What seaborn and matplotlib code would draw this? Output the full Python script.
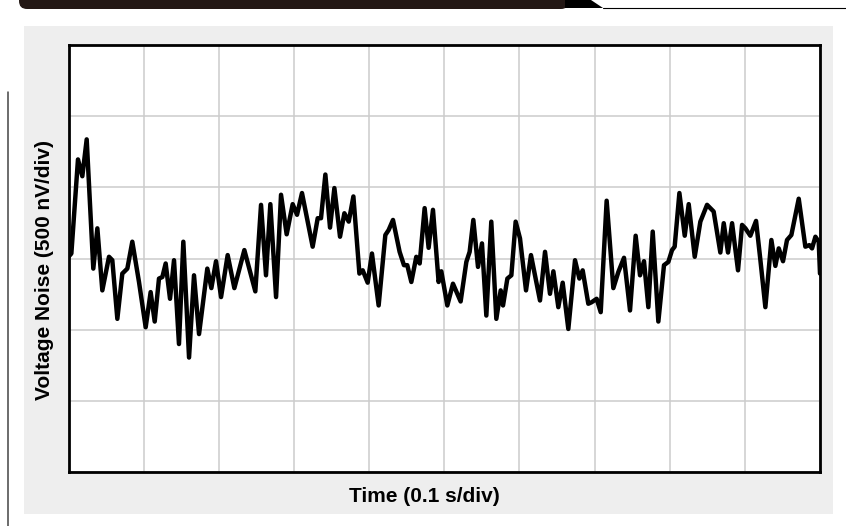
import numpy as np
import matplotlib
matplotlib.use('Agg')
import matplotlib.pyplot as plt
import seaborn as sns
from matplotlib.patches import Rectangle, FancyBboxPatch, Polygon
from matplotlib.lines import Line2D
from matplotlib.transforms import IdentityTransform

# Datos: tiempo (ms) y ruido de tension (nV)
time_ms = [0, 3.8, 12.6, 18.4, 24.2, 33.0, 38.4, 45.0, 53.9, 58.3, 65.0, 71.6, 78.3, 84.9, 93.8,
           102.7, 109.3, 114.7, 120.4, 124.9, 129.3, 135.1, 140.4, 147.0, 152.8, 160.4, 167.0,
           173.7, 184.7, 190.1, 196.3,
           203.0, 211.8, 220.7, 234.0, 248.6, 256.2, 262.8, 268.6, 276.2, 282.8, 290.3, 298.3,
           304.1, 310.7, 324.9, 331.6, 336.0, 341.8, 348.0, 353.8, 361.3, 367.1, 372.9, 379.1,
           387.1, 391.5, 398.1,
           403.8, 412.7, 421.6, 426.0, 431.8, 440.6, 446.4, 450.8, 456.2, 462.8, 467.3, 473.9,
           479.2, 485.0, 492.5, 496.1, 504.1, 511.6, 521.8, 529.4, 533.8, 538.7, 544.9, 550.2,
           556.0, 562.6, 569.3, 575.1, 578.2, 584.0, 589.3, 595.0,
           600.8, 608.8, 615.4, 627.4, 634.1, 640.7, 645.2, 651.8, 657.6, 665.1, 674.0, 679.8,
           684.2, 691.7, 696.2, 702.8, 708.2, 716.1, 725.0, 731.7, 739.2, 747.2, 754.7, 760.5,
           765.8, 771.6, 777.4, 784.9, 792.4, 798.2, 803.1,
           806.6, 812.9, 820.0, 825.3, 833.3, 840.8, 849.7, 858.5, 867.4, 871.9, 877.6, 883.0,
           890.9, 896.3, 900.7, 907.3, 914.9, 920.7, 927.3, 935.3, 940.6, 945.1, 950.8, 956.1,
           961.9, 971.7, 980.5, 985.9, 989.4, 993.9, 998.3, 1000]

noise_nv = [12, 35, 696, 578, 837, -71, 212, -224, 12, -12, -424, -106, -71, 118, -165,
            -483, -236, -443, -141, -130, -35, -283, -12, -601, 118, -696, -118,
            -531, -71, -208, -19,
            -271, 24, -208, 59, -231, 377, -118, 382, -271, 448, 170, 382,
            307, 460, 83, 283, 283, 590, 217, 495, 153, 318, 259, 436,
            -106, -83, -170,
            35, -330, 165, 200, 271, 47, -47, -47, -165, 12, -35, 354,
            75, 342, -165, -90, -330, -177, -302, -24, 47, 271, -59, 106,
            -401, 259, -424, -224, -330, -141, -118, 259,
            141, -224, 24, -295, 47, -248, -90, -342, -170, -495, -12, -141,
            -83, -318, -307, -283, -377, 406, -208, -94, 5, -365, 160, -118,
            -19, -342, 189, -443, -47, -24, 59,
            83, 460, 160, 382, 12, 259, 377, 330, 42, 248, 42, 248,
            -83, 236, 212, 160, 264, -12, -342, 130, -52, 71, -19, 130,
            165, 420, 83, 94, 71, 153, 118, -106]

x_divs = np.arange(0, 1001, 100)      # 0.1 s/div
y_divs = np.arange(-1500, 1501, 500)  # 500 nV/div

sns.set_theme(style='white')
plt.rcParams['font.family'] = ['Liberation Sans', 'DejaVu Sans']

W, H = 846, 526
fig = plt.figure(figsize=(W / 100, H / 100), dpi=100, facecolor='white')
ident = IdentityTransform()

# Decoracion de pagina (banda superior, panel gris, linea lateral)
fig.add_artist(FancyBboxPatch((19, H - 9), 550, 30, boxstyle='round,pad=0,rounding_size=8',
                              fc='#231815', ec='none', transform=ident))
fig.add_artist(Polygon([(565, H), (591, H), (603, H - 8), (565, H - 8)],
                       closed=True, fc='black', ec='none', transform=ident))
fig.add_artist(Line2D([603, W], [H - 7.5, H - 7.5], color='black', lw=0.8, transform=ident))
fig.add_artist(Rectangle((24, H - 514), 809, 488, fc='#eeeeee', ec='none',
                         transform=ident, zorder=-1))
fig.add_artist(Line2D([7.5, 7.5], [0, H - 92], color='#444444', lw=1.1, transform=ident))

ax = fig.add_axes([68.5 / W, (H - 472) / H, (820 - 68.5) / W, (472 - 45) / H])
ax.set_facecolor('white')

sns.lineplot(x=time_ms, y=noise_nv, ax=ax, color='black', linewidth=3.2,
             estimator=None, sort=False, solid_joinstyle='round', solid_capstyle='round')

ax.set_xlim(0, 1000)
ax.set_ylim(-1500, 1500)
ax.set_xticks(x_divs)
ax.set_yticks(y_divs)
ax.set_xticklabels([])
ax.set_yticklabels([])
ax.tick_params(length=0)
ax.grid(True, color='#cccccc', linewidth=1.1)
ax.set_axisbelow(True)
ax.set_xlabel('')
ax.set_ylabel('')
for s in ax.spines.values():
    s.set_color('black')
    s.set_linewidth(2)
    s.set_visible(True)

fig.text(424.5 / W, 1 - 502.5 / H, 'Time (0.1 s/div)', ha='center', va='baseline',
         fontsize=15, fontweight='bold', color='black')
fig.text(45 / W, 1 - 270 / H, 'Voltage Noise (500 nV/div)', ha='center', va='center',
         rotation=90, fontsize=15, fontweight='bold', color='black')

fig.savefig('out.png', dpi=100, facecolor='white')
